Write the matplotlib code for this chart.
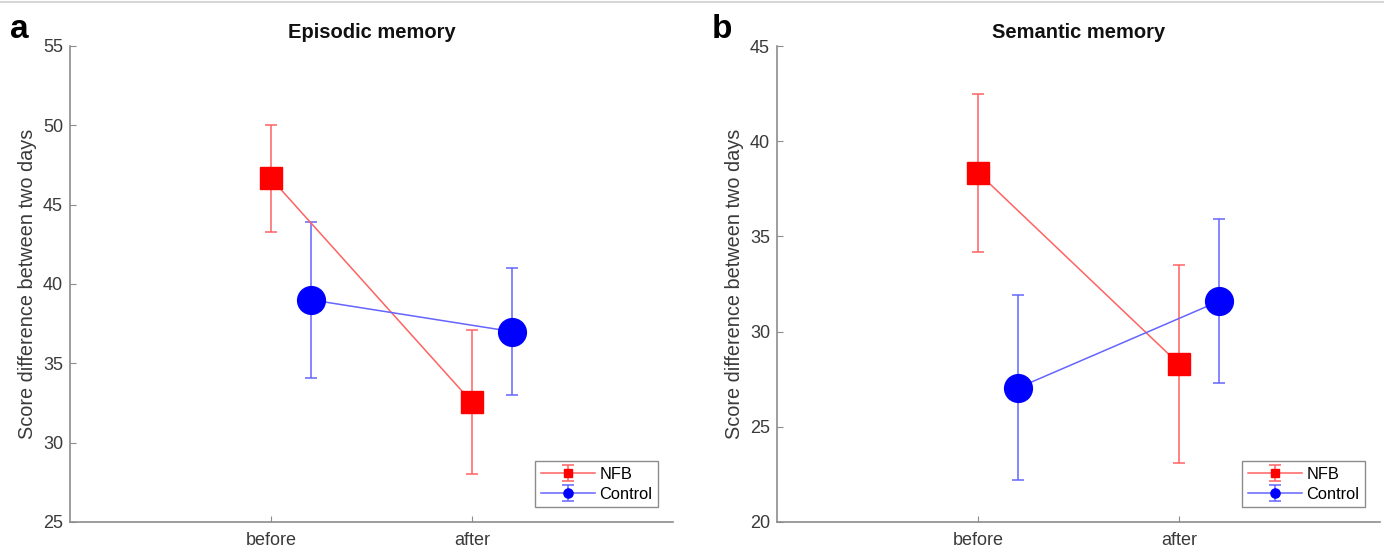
import matplotlib.pyplot as plt
from matplotlib.lines import Line2D

plt.rcParams['font.family'] = ['Liberation Sans', 'DejaVu Sans']

# x categories; Control is drawn slightly right of NFB
conditions = ["before", "after"]
x_pos = [1, 2]
ctrl_shift = 0.2

# Episodic memory (mean +/- error)
episodic_nfb = [46.65, 32.55]
episodic_nfb_err = [3.35, 4.55]
episodic_ctrl = [39.0, 37.0]
episodic_ctrl_err = [4.9, 4.0]

# Semantic memory (mean +/- error)
semantic_nfb = [38.35, 28.3]
semantic_nfb_err = [4.15, 5.2]
semantic_ctrl = [27.05, 31.6]
semantic_ctrl_err = [4.85, 4.3]

LIGHT_RED = "#ff6262"
LIGHT_BLUE = "#6464ff"
AXIS_GRAY = "#8c8c8c"
TEXT_GRAY = "#3a3a3a"


def draw_panel(ax, title, nfb, nfb_err, ctrl, ctrl_err, ylim, yticks):
    ax.errorbar(x_pos, nfb, yerr=nfb_err, color=LIGHT_RED, lw=1.1,
                marker="s", ms=15.5, mfc="red", mec="red",
                capsize=4.5, capthick=1.1, elinewidth=1.1, label="NFB")
    ctrl_x = [x + ctrl_shift for x in x_pos]
    ax.errorbar(ctrl_x, ctrl, yerr=ctrl_err, color=LIGHT_BLUE, lw=1.1,
                marker="o", ms=20, mfc="blue", mec="blue",
                capsize=4.5, capthick=1.1, elinewidth=1.1, label="Control")

    ax.set_xlim(0, 3)
    ax.set_ylim(*ylim)
    ax.set_xticks(x_pos)
    ax.set_xticklabels(conditions)
    ax.set_yticks(yticks)
    ax.set_title(title, fontsize=14.5, fontweight="bold", pad=6,
                 color="#111111")
    ax.set_ylabel("Score difference between two days", fontsize=14.3,
                  color=TEXT_GRAY, labelpad=4)

    for side in ("top", "right"):
        ax.spines[side].set_visible(False)
    for side in ("left", "bottom"):
        ax.spines[side].set_color(AXIS_GRAY)
        ax.spines[side].set_linewidth(1.2)
    ax.tick_params(direction="in", length=4, width=0.8, colors=AXIS_GRAY,
                   labelcolor=TEXT_GRAY, labelsize=13)
    ax.tick_params(axis="y", pad=5)
    ax.tick_params(axis="x", pad=7)

    leg = ax.legend(loc="lower right", markerscale=0.33, fontsize=11.8,
                    fancybox=False, framealpha=1, edgecolor="0.55",
                    handlelength=3.3, handletextpad=0.3, borderpad=0.35,
                    labelspacing=0.3, borderaxespad=0.9)
    leg.get_frame().set_linewidth(1.0)


fig = plt.figure(figsize=(13.84, 5.53), dpi=100)
ax_a = fig.add_axes([70 / 1384, 31 / 553, 603 / 1384, 476 / 553])
ax_b = fig.add_axes([777 / 1384, 31 / 553, 603 / 1384, 476 / 553])

draw_panel(ax_a, "Episodic memory", episodic_nfb, episodic_nfb_err,
           episodic_ctrl, episodic_ctrl_err, (25, 55), range(25, 56, 5))
draw_panel(ax_b, "Semantic memory", semantic_nfb, semantic_nfb_err,
           semantic_ctrl, semantic_ctrl_err, (20, 45), range(20, 46, 5))

fig.text(10 / 1384, 1 - 38 / 553, "a", fontsize=24, fontweight="bold",
         va="baseline")
fig.text(712 / 1384, 1 - 38 / 553, "b", fontsize=24, fontweight="bold",
         va="baseline")

# thin gray rule along the top edge
fig.add_artist(Line2D([0, 1], [0.996, 0.996], transform=fig.transFigure,
                      color="#d6d6d6", lw=1.5))

fig.savefig("out.png", dpi=100)
